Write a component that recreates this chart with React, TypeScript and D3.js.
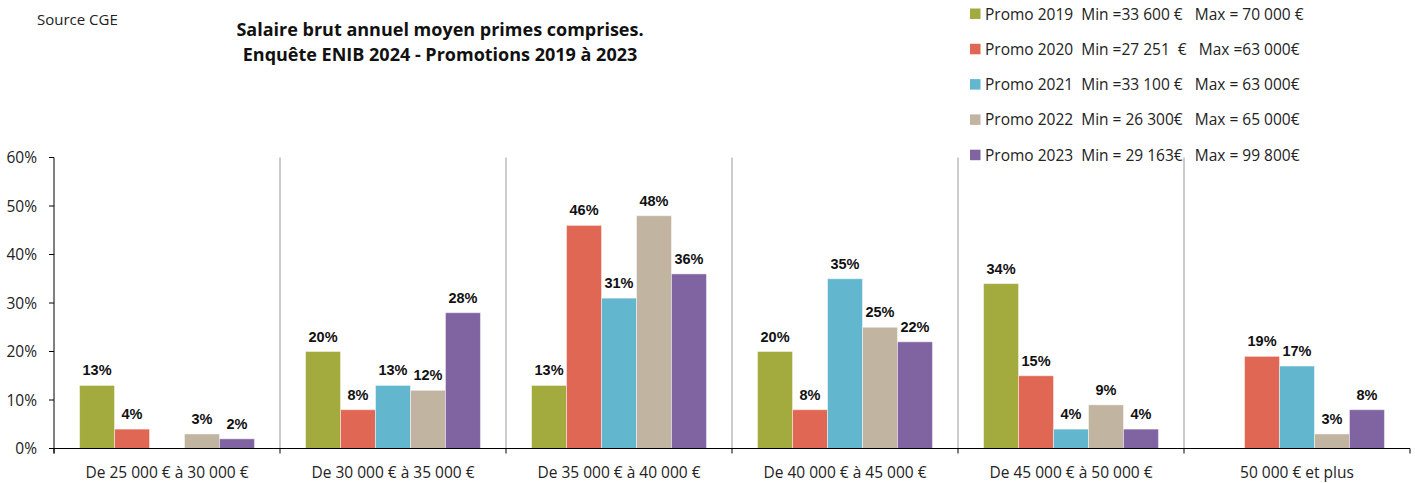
import React from 'react';
import * as d3 from 'd3';

const categories = [
  'De 25 000 € à 30 000 €',
  'De 30 000 € à 35 000 €',
  'De 35 000 € à 40 000 €',
  'De 40 000 € à 45 000 €',
  'De 45 000 € à 50 000 €',
  '50 000 € et plus',
];
const series = ['Promo 2019', 'Promo 2020', 'Promo 2021', 'Promo 2022', 'Promo 2023'];
const legendLabels = [
  'Promo 2019  Min =33 600 €   Max = 70 000 €',
  'Promo 2020  Min =27 251  €   Max =63 000€',
  'Promo 2021  Min =33 100 €   Max = 63 000€',
  'Promo 2022  Min = 26 300€   Max = 65 000€',
  'Promo 2023  Min = 29 163€   Max = 99 800€',
];
const colors = ['#a3aa3e', '#e06754', '#62b6ce', '#c1b4a1', '#8064a2'];
// one row per category, one value per promo (null = no bar)
const values: (number | null)[][] = [
  [13, 4, null, 3, 2],
  [20, 8, 13, 12, 28],
  [13, 46, 31, 48, 36],
  [20, 8, 35, 25, 22],
  [34, 15, 4, 9, 4],
  [null, 19, 17, 3, 8],
];
const yTicks = [0, 10, 20, 30, 40, 50, 60];

const W = 1415;
const H = 483;
const margin = { top: 157.5, right: 5, bottom: 34.5, left: 54 };

const App: React.FC = () => {
  const x0 = d3.scaleBand().domain(categories).range([margin.left, W - margin.right]);
  const x1 = d3.scaleBand().domain(series).range([0, x0.bandwidth()]).paddingOuter(0.73).paddingInner(0);
  const y = d3.scaleLinear().domain([0, 60]).range([H - margin.bottom, margin.top]);
  const y0 = y(0);
  const axisFont = '"Segoe UI", "Open Sans", sans-serif';

  return (
    <svg width={W} height={H} style={{ position: 'absolute', left: 0, top: 0 }}>
      <text x={37} y={25} fontFamily={axisFont} fontSize={15} fill="#222">Source CGE</text>
      <text x={440} y={36} textAnchor="middle" fontFamily={axisFont} fontWeight="bold" fontSize={18} fill="#111">
        Salaire brut annuel moyen primes comprises.
      </text>
      <text x={440} y={61} textAnchor="middle" fontFamily={axisFont} fontWeight="bold" fontSize={18} fill="#111">
        Enquête ENIB 2024 - Promotions 2019 à 2023
      </text>

      {/* category separators */}
      {categories.slice(1).map((c) => (
        <line key={c} x1={x0(c)!} x2={x0(c)!} y1={margin.top} y2={y0} stroke="#999" strokeWidth={1} />
      ))}

      {/* bars */}
      {values.map((row, ci) =>
        row.map((v, si) =>
          v === null ? null : (
            <g key={`${ci}-${si}`}>
              <rect
                x={x0(categories[ci])! + x1(series[si])!}
                y={y(v)}
                width={x1.bandwidth()}
                height={y0 - y(v)}
                fill={colors[si]}
                stroke="#ffffff"
                strokeOpacity={0.45}
                strokeWidth={1}
              />
              <text
                x={x0(categories[ci])! + x1(series[si])! + x1.bandwidth() / 2}
                y={y(v) - 10}
                textAnchor="middle"
                fontFamily="Arial, 'Liberation Sans', sans-serif"
                fontWeight="bold"
                fontSize={14.5}
                fill="#111"
              >
                {v}%
              </text>
            </g>
          )
        )
      )}

      {/* y axis */}
      <line x1={margin.left} x2={margin.left} y1={margin.top} y2={y0 + 5} stroke="#000" />
      {yTicks.map((t) => (
        <g key={t}>
          <line x1={margin.left - 5} x2={margin.left} y1={y(t)} y2={y(t)} stroke="#000" />
          <text x={margin.left - 17} y={y(t) + 5.5} textAnchor="end" fontFamily={axisFont} fontSize={15.5} fill="#222">
            {t}%
          </text>
        </g>
      ))}

      {/* x axis */}
      <line x1={margin.left} x2={W - margin.right} y1={y0} y2={y0} stroke="#000" />
      {[...categories.map((c) => x0(c)!), W - margin.right].map((px, i) => (
        <line key={i} x1={px} x2={px} y1={y0} y2={y0 + 5} stroke="#000" />
      ))}
      {categories.map((c) => (
        <text
          key={c}
          x={x0(c)! + x0.bandwidth() / 2}
          y={478}
          textAnchor="middle"
          fontFamily={axisFont}
          fontSize={15.5}
          fill="#222"
        >
          {c}
        </text>
      ))}

      {/* legend */}
      {legendLabels.map((l, i) => (
        <g key={l} transform={`translate(970, ${14 + i * 35.3})`}>
          <rect x={0} y={-5.5} width={10.5} height={10.5} fill={colors[i]} />
          <text x={15} y={5.5} fontFamily={axisFont} fontSize={15.5} fill="#222" style={{ whiteSpace: 'pre' }}>
            {l}
          </text>
        </g>
      ))}
    </svg>
  );
};

export default App;
